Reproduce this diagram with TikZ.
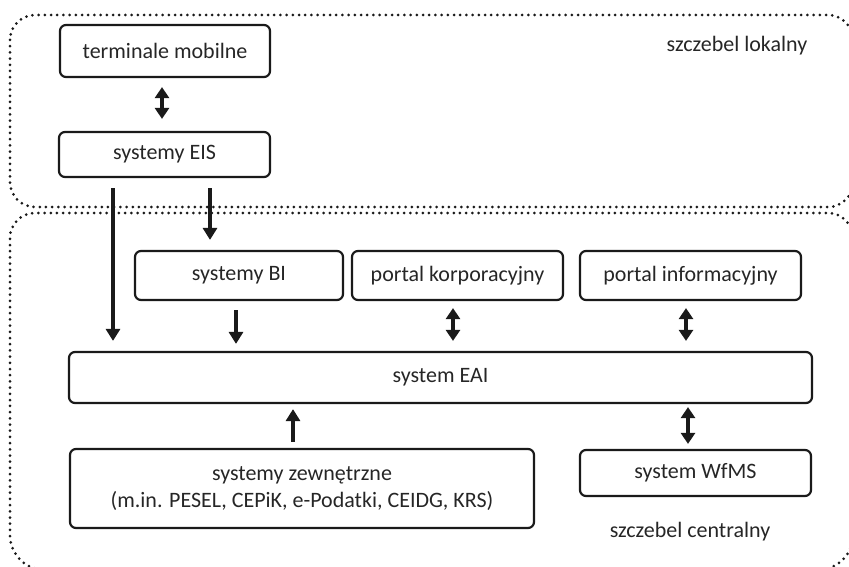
\documentclass[tikz,border=0pt]{standalone}
\usepackage{fontspec}
\setmainfont{Carlito}
\usetikzlibrary{arrows.meta}
\definecolor{linec}{HTML}{1A1A1A}
\definecolor{textc}{HTML}{262626}
\begin{document}
\begin{tikzpicture}[x=1pt,y=-1pt,
  box/.style={draw=linec, line width=2.2pt, rounded corners=6pt, inner sep=0pt,
    align=center, text=textc, font=\fontsize{22}{27}\selectfont},
  lbl/.style={inner sep=0pt, text=textc, font=\fontsize{22}{27}\selectfont},
  arr/.style={line width=3.3pt, draw=linec, -{Triangle[width=14pt,length=12pt]}},
  darr/.style={line width=3.3pt, draw=linec, {Triangle[width=14pt,length=11pt]}-{Triangle[width=14pt,length=11pt]}},
  region/.style={draw=linec, line width=3pt, line cap=round, dash pattern=on 0pt off 6.2pt}]
\useasboundingbox (0,0) rectangle (849,567);
\clip (0,0) rectangle (849,567);

% regions
\draw[region, rounded corners=25pt] (10,15) rectangle (853,207);
\draw[region, rounded corners=25pt] (10,400) -- (10,213) -- (853,213) -- (853,400);
\draw[region, rounded corners=35pt] (853,400) -- (853,570) -- (10,570) -- (10,400);

\node[lbl] (lok) at (737,46) {szczebel lokalny};
\node[lbl] (cen) at (690,532) {szczebel centralny};

% boxes
\node[box, minimum width=210pt, minimum height=52pt] (tm) at (165,51) {terminale mobilne};
\node[box, minimum width=211pt, minimum height=45pt] (eis) at (164.5,154.5) {systemy EIS};
\node[box, minimum width=208pt, minimum height=49pt] (bi) at (239,275.5) {systemy BI};
\node[box, minimum width=211pt, minimum height=49pt] (pk) at (457.5,275.5) {portal korporacyjny};
\node[box, minimum width=221pt, minimum height=49pt] (pi) at (690.5,275.5) {portal informacyjny};
\node[box, minimum width=743pt, minimum height=51pt] (eai) at (440.5,377.5) {system EAI};
\node[box, minimum width=464pt, minimum height=79pt] (ext) at (302,488.5) {systemy zewnętrzne\\(m.in. PESEL, CEPiK, e-Podatki, CEIDG, KRS)};
\node[box, minimum width=231pt, minimum height=46pt] (wf) at (695.5,473) {system WfMS};

% x positions of connectors
\coordinate (c1) at (162,0);
\coordinate (c2) at (113,0);
\coordinate (c3) at (210,0);
\coordinate (c4) at (236,0);
\coordinate (c5) at (453,0);
\coordinate (c6) at (686,0);
\coordinate (c7) at (293,0);
\coordinate (c8) at (688,0);

% connectors
\draw[darr, shorten <=9pt, shorten >=12pt] (tm.south -| c1) -- (eis.north -| c1);
\draw[arr, shorten <=10pt, shorten >=10pt] (eis.south -| c2) -- (eai.north -| c2);
\draw[arr, shorten <=10pt, shorten >=10pt] (eis.south -| c3) -- (bi.north -| c3);
\draw[arr, shorten <=9pt, shorten >=7pt] (bi.south -| c4) -- (eai.north -| c4);
\draw[darr, shorten <=7pt, shorten >=10pt] (pk.south -| c5) -- (eai.north -| c5);
\draw[darr, shorten <=7pt, shorten >=10pt] (pi.south -| c6) -- (eai.north -| c6);
\draw[arr, shorten <=6pt, shorten >=5pt] (ext.north -| c7) -- (eai.south -| c7);
\draw[darr, shorten <=3pt, shorten >=5pt] (eai.south -| c8) -- (wf.north -| c8);
\end{tikzpicture}
\end{document}
